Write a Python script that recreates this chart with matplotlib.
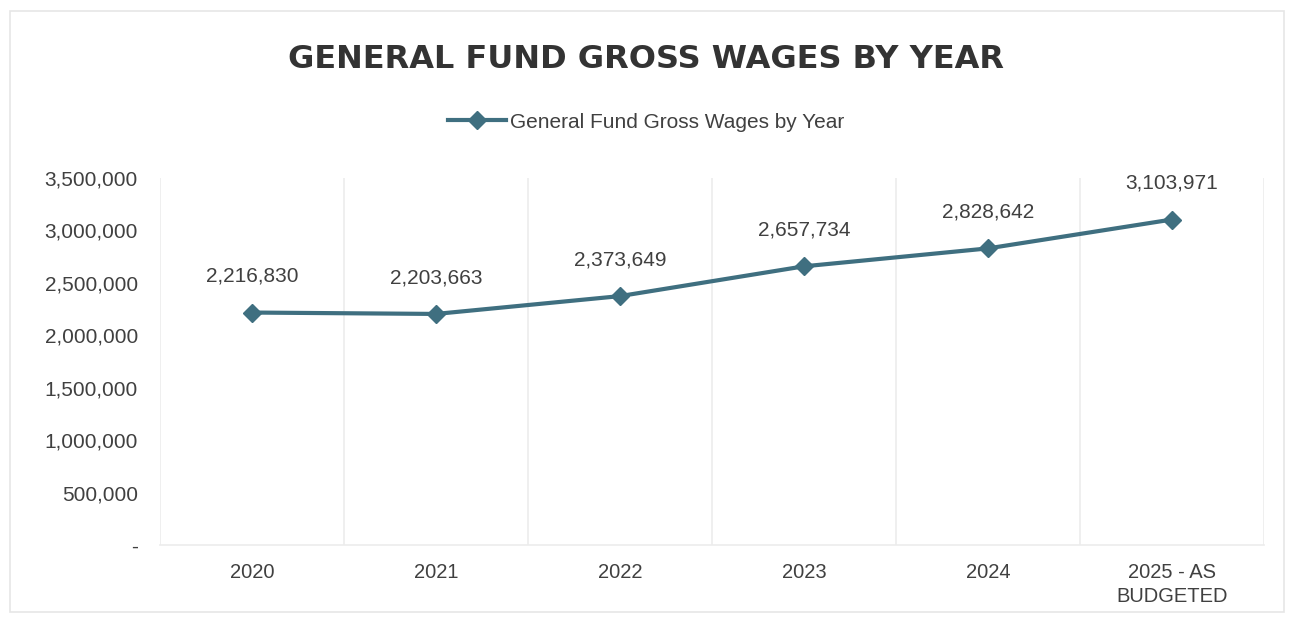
import matplotlib.pyplot as plt
from matplotlib.ticker import FuncFormatter, FixedLocator
from matplotlib.patches import Rectangle

# data
years = ['2020', '2021', '2022', '2023', '2024', '2025 - AS\nBUDGETED']
wages = [2216830, 2203663, 2373649, 2657734, 2828642, 3103971]

line_color = '#3f6f80'
text_color = '#404040'

plt.rcParams['font.family'] = ['Liberation Sans', 'DejaVu Sans']

fig = plt.figure(figsize=(12.92, 6.22), dpi=100)
ax = fig.add_axes([160 / 1292, 1 - 545 / 622, 1104 / 1292, 367 / 622])

x = list(range(len(years)))
ax.plot(x, wages, color=line_color, lw=3, marker='D', ms=9,
        label='General Fund Gross Wages by Year')

# value labels
for xi, v in zip(x, wages):
    ax.annotate(f'{v:,}', (xi, v), xytext=(0, 26), textcoords='offset points',
                ha='center', va='center', fontsize=15, color=text_color)

ax.set_xlim(-0.5, len(years) - 0.5)
ax.set_ylim(0, 3500000)
ax.set_yticks(range(0, 3500001, 500000))
ax.yaxis.set_major_formatter(FuncFormatter(lambda v, p: '-' if v == 0 else f'{int(v):,}'))
ax.set_xticks(x)
ax.set_xticklabels(years, fontsize=14.5, color=text_color, linespacing=1.3)
ax.tick_params(axis='y', labelsize=15, labelcolor=text_color, length=0, pad=16)
ax.tick_params(axis='x', length=0, pad=13)

# vertical lines between categories
ax.xaxis.set_minor_locator(FixedLocator([i - 0.5 for i in x] + [len(x) - 0.5]))
ax.grid(True, which='minor', axis='x', color='#ececec', lw=1.2)
ax.tick_params(axis='x', which='minor', length=0)

for s in ['top', 'right', 'left']:
    ax.spines[s].set_visible(False)
ax.spines['bottom'].set_color('#ececec')
ax.spines['bottom'].set_linewidth(1.2)

fig.text(0.5, 1 - 59 / 622, 'GENERAL FUND GROSS WAGES BY YEAR', ha='center', va='center',
         fontsize=23, fontweight='bold', color='#333333', family='DejaVu Sans')

fig.legend(loc='center', bbox_to_anchor=(0.5, 1 - 122 / 622), frameon=False,
           fontsize=15, handlelength=2.8, handletextpad=0.2, labelcolor=text_color)

# chart border
fig.patches.append(Rectangle((10 / 1292, 10 / 622), 1274 / 1292, 601 / 622,
                             transform=fig.transFigure, fill=False,
                             edgecolor='#e6e6e6', lw=1.2))

plt.savefig('out.png', dpi=100)
